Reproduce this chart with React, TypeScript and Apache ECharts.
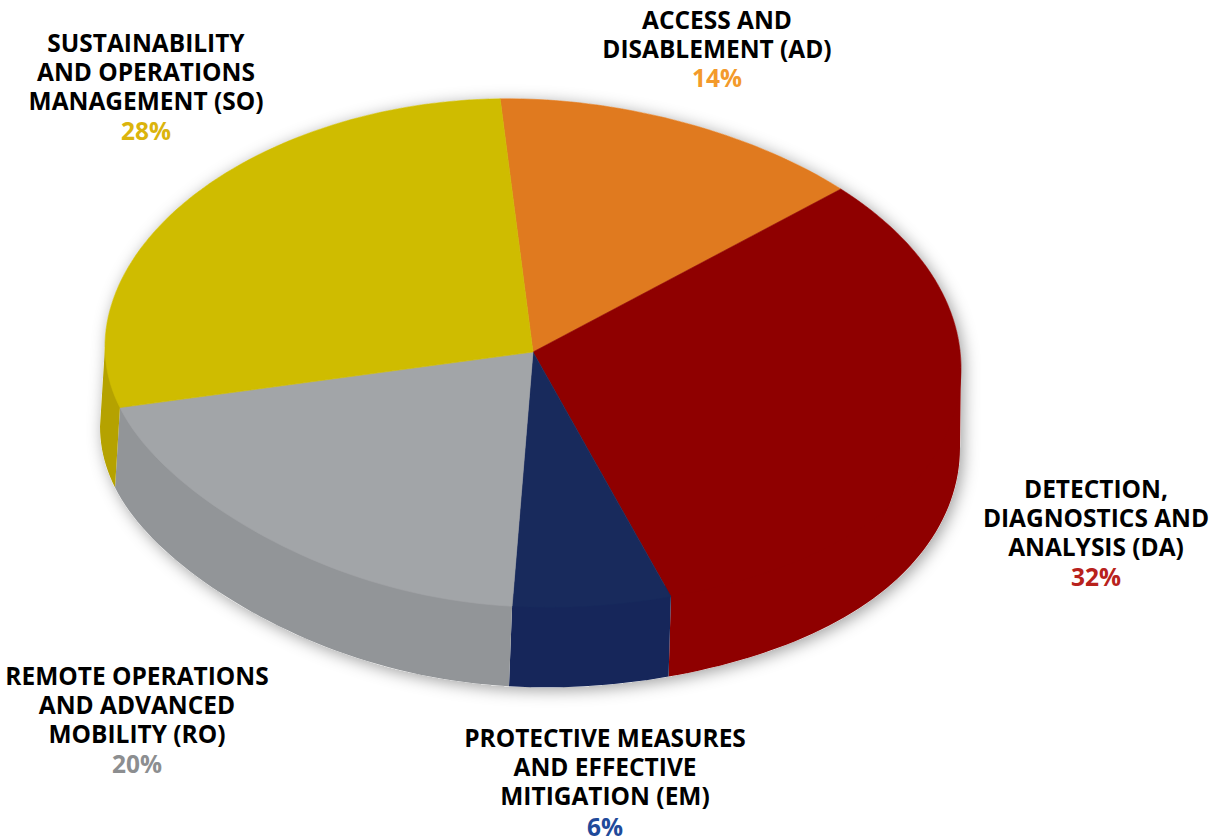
import React, { useEffect, useRef } from "react";
import * as echarts from "echarts";

const categories = ["AD", "DA", "EM", "RO", "SO"];
const shares = [14, 32, 6, 20, 28];
const percentLabels = ["14%", "32%", "6%", "20%", "28%"];
const nameLines = [
  ["ACCESS AND", "DISABLEMENT (AD)"],
  ["DETECTION,", "DIAGNOSTICS AND", "ANALYSIS (DA)"],
  ["PROTECTIVE MEASURES", "AND EFFECTIVE", "MITIGATION (EM)"],
  ["REMOTE OPERATIONS", "AND ADVANCED", "MOBILITY (RO)"],
  ["SUSTAINABILITY", "AND OPERATIONS", "MANAGEMENT (SO)"],
];

const topColors = ["#e07a1f", "#8f0000", "#182a5c", "#a2a5a8", "#cfbc00"];
const wallColors = ["#c96c18", "#8f0000", "#16265a", "#929598", "#b5a200"];
const percentColors = ["#f39a2b", "#b8221c", "#1f4a9a", "#8c8e90", "#dbb40c"];
const labelX = [717, 1096, 605, 137, 146];
const labelY = [18.5, 487.5, 736.5, 674.5, 41.5];
const percentNudge = [0, 0, 1, 0, 0];
const LINE = 29.3;
const FONT_SIZE = 25.5;
const TEXT_SCALE = 0.96;

const START = -4.4;
const TOP = { cx: 533, cy: 352, rx: 428, ry: 257 };
const INNER = { cx: 533, cy: 352, rx: 416, ry: 245 };
const BOTTOM = { cx: 530, cy: 432, rx: 430, ry: 257 };

type Ell = typeof TOP;
const total = shares.reduce((a, b) => a + b, 0);

// the photographed disc is not a clean ellipse: the right side sags, the lower left lifts
function angleGap(deg: number, centre: number) {
  return ((deg - centre + 540) % 360 + 360) % 360 - 180;
}
function sag(deg: number) {
  const right = 16 * Math.exp(-Math.pow(angleGap(deg, 75) / 70, 4));
  const left = -18 * Math.exp(-Math.pow(angleGap(deg, 232) / 35, 2));
  return right + left;
}

function rimPoint(e: Ell, deg: number) {
  const a = (deg * Math.PI) / 180;
  return [e.cx + e.rx * Math.sin(a), e.cy - e.ry * Math.cos(a) + sag(deg)];
}

function arc(e: Ell, a0: number, a1: number) {
  const n = Math.max(2, Math.ceil((a1 - a0) / 1.5));
  const pts: number[][] = [];
  for (let i = 0; i <= n; i++) pts.push(rimPoint(e, a0 + ((a1 - a0) * i) / n));
  return pts;
}

function range(idx: number) {
  let acc = 0;
  for (let i = 0; i < idx; i++) acc += shares[i];
  return [START + (acc / total) * 360, START + ((acc + shares[idx]) / total) * 360];
}

export default function App() {
  const ref = useRef<HTMLDivElement>(null);
  useEffect(() => {
    document.body.style.margin = "0";
    const chart = echarts.init(ref.current!, undefined, { renderer: "svg" });
    const elements: any[] = [];
    const textStyle = (text: string, fill: string) => ({
      text,
      fill,
      font: `700 ${FONT_SIZE}px "Open Sans", sans-serif`,
      align: "center",
      verticalAlign: "middle",
    });
    categories.forEach((_, i) => {
      const lines = nameLines[i];
      lines.forEach((t, j) => {
        elements.push({
          type: "text",
          x: labelX[i],
          y: labelY[i] + j * LINE,
          scaleX: TEXT_SCALE,
          z: 10,
          style: textStyle(t, "#000000"),
        });
      });
      elements.push({
        type: "text",
        x: labelX[i],
        y: labelY[i] + lines.length * LINE + percentNudge[i],
        scaleX: TEXT_SCALE,
        z: 10,
        style: textStyle(percentLabels[i], percentColors[i]),
      });
    });

    chart.setOption({
      animation: false,
      backgroundColor: "#ffffff",
      graphic: { elements },
      series: [
        {
          type: "custom",
          coordinateSystem: "none",
          silent: true,
          z: 1,
          data: [0],
          renderItem: () => ({
            type: "polygon",
            shape: { points: [...arc(TOP, -90, 90), ...arc(BOTTOM, 90, 270)] },
            style: {
              fill: "#ffffff",
              shadowBlur: 16,
              shadowColor: "rgba(0,0,0,0.38)",
              shadowOffsetX: 3,
              shadowOffsetY: 3,
            },
          }),
        },
        {
          type: "custom",
          coordinateSystem: "none",
          silent: true,
          z: 2,
          data: shares,
          renderItem: (p: any) => {
            const [s0, s1] = range(p.dataIndex);
            const a0 = Math.max(s0, 90);
            const a1 = Math.min(s1, 270);
            if (a1 <= a0) return null;
            const points = [
              ...arc(INNER, a0, a1),
              rimPoint(TOP, a1),
              ...arc(BOTTOM, a0, a1).reverse(),
              rimPoint(TOP, a0),
            ];
            return {
              type: "polygon",
              shape: { points },
              style: { fill: wallColors[p.dataIndex] },
            };
          },
        },
        {
          type: "custom",
          coordinateSystem: "none",
          silent: true,
          z: 3,
          data: shares,
          renderItem: (p: any) => {
            const [a0, a1] = range(p.dataIndex);
            const points = [[TOP.cx, TOP.cy], ...arc(TOP, a0, a1)];
            return {
              type: "polygon",
              shape: { points },
              style: {
                fill: topColors[p.dataIndex],
                stroke: topColors[p.dataIndex],
                lineWidth: 0.6,
              },
            };
          },
        },
      ],
    });
    return () => chart.dispose();
  }, []);
  return <div ref={ref} style={{ width: 1222, height: 836 }} />;
}
